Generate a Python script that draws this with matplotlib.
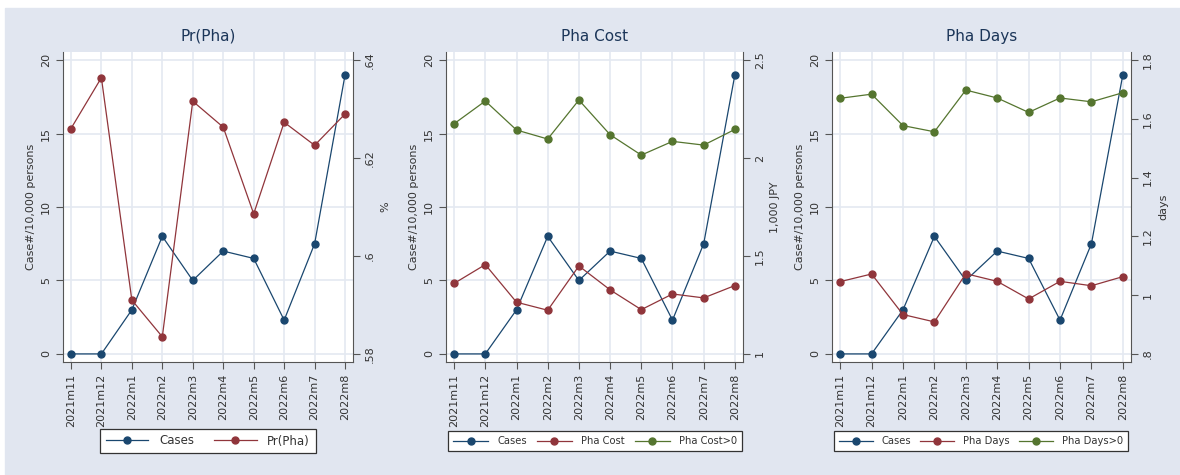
import matplotlib.pyplot as plt
from matplotlib.patches import Rectangle

months = ['2021m11', '2021m12', '2022m1', '2022m2', '2022m3',
          '2022m4', '2022m5', '2022m6', '2022m7', '2022m8']

# cases per 10,000 persons (left axis, shared by all panels)
cases = [0.0, 0.0, 3.0, 8.0, 5.0, 7.0, 6.5, 2.3, 7.5, 19.0]

pr_pha = [0.626, 0.6364, 0.591, 0.5835, 0.6316, 0.6263, 0.6086, 0.6273, 0.6226, 0.629]

pha_cost = [1.360, 1.456, 1.264, 1.223, 1.449, 1.327, 1.226, 1.306, 1.286, 1.349]
pha_cost_pos = [2.175, 2.291, 2.143, 2.097, 2.296, 2.119, 2.015, 2.085, 2.066, 2.146]

pha_days = [1.046, 1.072, 0.934, 0.909, 1.073, 1.047, 0.987, 1.047, 1.032, 1.063]
pha_days_pos = [1.670, 1.684, 1.577, 1.556, 1.698, 1.671, 1.622, 1.671, 1.658, 1.689]

NAVY = '#1a476f'
MAROON = '#90353b'
GREEN = '#55752f'
BG = '#e1e6f0'
GRID = '#e4e9f1'
AXC = '#555555'
TXT = '#333333'

fig = plt.figure(figsize=(11.8, 4.75), dpi=100)
fig.patches.append(Rectangle((5 / 1180, 0), 1, (475 - 8) / 475,
                             transform=fig.transFigure, color=BG, zorder=-10))

panels = [
    dict(title='Pr(Pha)', rlabel='%', rng=(0.58, 0.64),
         rticks=[0.58, 0.60, 0.62, 0.64], rtl=['.58', '.6', '.62', '.64'],
         series=[('Pr(Pha)', pr_pha, MAROON)],
         pos=[63, 290], legx=208, legfs=8.5, hl=3.6, cs=1.7),
    dict(title='Pha Cost', rlabel='1,000 JPY', rng=(1.0, 2.5),
         rticks=[1, 1.5, 2, 2.5], rtl=['1', '1.5', '2', '2.5'],
         series=[('Pha Cost', pha_cost, MAROON), ('Pha Cost>0', pha_cost_pos, GREEN)],
         pos=[446, 297], legx=595, legfs=7.2, hl=3.5, cs=1.0),
    dict(title='Pha Days', rlabel='days', rng=(0.8, 1.8),
         rticks=[0.8, 1.0, 1.2, 1.4, 1.6, 1.8], rtl=['.8', '1', '1.2', '1.4', '1.6', '1.8'],
         series=[('Pha Days', pha_days, MAROON), ('Pha Days>0', pha_days_pos, GREEN)],
         pos=[832, 299], legx=981, legfs=7.2, hl=3.4, cs=0.9),
]

x = list(range(len(months)))
pad = 0.55  # y-axis padding in left-axis units

for p in panels:
    ax = fig.add_axes([p['pos'][0] / 1180, 113 / 475, p['pos'][1] / 1180, 310 / 475])
    ax.set_facecolor('white')
    ax.set_xlim(-0.26, 9.26)
    ax.set_ylim(-pad, 20 + pad)
    ax.set_yticks([0, 5, 10, 15, 20])
    ax.set_xticks(x)
    ax.set_xticklabels(months, rotation=90, fontsize=8, color=TXT)
    ax.tick_params(axis='y', labelrotation=90, labelsize=8, colors=AXC, labelcolor=TXT,
                   length=5, width=0.8)
    ax.tick_params(axis='x', length=5, width=0.8, colors=AXC, labelcolor=TXT)
    for t in ax.get_yticklabels():
        t.set_va('center')
    ax.grid(True, color=GRID, linewidth=1.2)
    ax.set_axisbelow(True)
    ax.spines['top'].set_visible(False)
    ax.spines['right'].set_visible(False)
    ax.spines['left'].set_color(AXC)
    ax.spines['bottom'].set_color(AXC)
    ax.set_ylabel('Case#/10,000 persons', fontsize=8, color=TXT, labelpad=4)
    ax.set_title(p['title'], fontsize=11, color='#1c3659', pad=8)

    handles = []
    h, = ax.plot(x, cases, '-o', color=NAVY, lw=0.9, ms=5, label='Cases', clip_on=False)
    handles.append(h)

    lo, hi = p['rng']
    k = (hi - lo) / 20
    ax2 = ax.twinx()
    ax2.set_ylim(lo - pad * k, hi + pad * k)
    ax2.set_yticks(p['rticks'])
    ax2.set_yticklabels(p['rtl'])
    ax2.tick_params(axis='y', labelrotation=90, labelsize=8, colors=AXC, labelcolor=TXT,
                    length=5, width=0.8)
    for t in ax2.get_yticklabels():
        t.set_va('center')
    for s in ['top', 'left', 'bottom']:
        ax2.spines[s].set_visible(False)
    ax2.spines['right'].set_color(AXC)
    ax2.set_ylabel(p['rlabel'], fontsize=8, color=TXT, labelpad=4)
    for name, vals, c in p['series']:
        h, = ax2.plot(x, vals, '-o', color=c, lw=0.9, ms=5, label=name, clip_on=False)
        handles.append(h)

    leg = fig.legend(handles=handles, loc='center', ncol=len(handles),
                     bbox_to_anchor=(p['legx'] / 1180, 34 / 475),
                     fontsize=p['legfs'], frameon=True, fancybox=False,
                     facecolor='white', framealpha=1,
                     handlelength=p['hl'], borderpad=0.5, columnspacing=p['cs'],
                     handletextpad=0.9, borderaxespad=0)
    leg.get_frame().set_edgecolor('#333333')
    leg.get_frame().set_linewidth(0.9)
    for t in leg.get_texts():
        t.set_color(TXT)

fig.savefig('out.png', dpi=100)
